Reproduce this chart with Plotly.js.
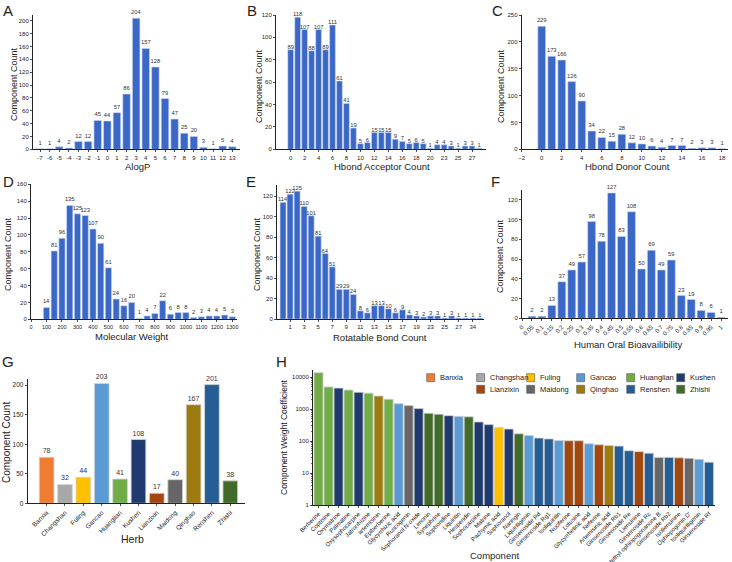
<!DOCTYPE html>
<html>
<head>
<meta charset="utf-8">
<script src="https://cdn.plot.ly/plotly-3.0.1.min.js"></script>
<style>html,body{margin:0;padding:0;background:#fff}#chart{width:732px;height:562px}</style>
</head>
<body>
<div id="chart"></div>
<script>
// ---------- DATA ----------
const alogpX = [-7,-6,-5,-4,-3,-2,-1,0,1,2,3,4,5,6,7,8,9,10,11,12,13];
const alogpCount = [1,1,4,2,12,12,45,44,57,86,204,157,128,79,47,25,20,3,1,5,4];

const accCats = ['0','1','2','3','4','5','6','7','8','9','10','11','12','13','14','15','16','17','18','19','20','22','23','24','25','26','27','29'];
const accCount = [89,118,107,88,107,89,111,61,41,19,5,6,15,15,15,9,7,5,6,5,1,4,4,3,1,3,3,1];
const accTicks = ['0','2','4','6','8','10','12','14','16','18','20','23','25','27'];

const donX = [0,1,2,3,4,5,6,7,8,9,10,11,12,13,14,15,16,17,18];
const donCount = [229,173,166,126,90,34,22,15,28,12,10,6,4,7,7,2,3,3,1];

const mwX = [100,150,200,250,300,350,400,450,500,550,600,650,700,750,800,850,900,950,1000,1050,1100,1150,1200,1250,1300];
const mwCount = [14,81,96,135,125,123,107,90,61,24,16,20,1,4,7,22,6,8,8,2,3,4,4,5,3];

const rotCats = ['0','1','2','3','4','5','6','7','8','9','10','11','12','13','14','15','16','17','18','19','21','23','24','25','26','27','30','34','36'];
const rotCount = [114,122,125,110,101,81,64,51,29,29,24,8,6,13,13,10,6,9,4,3,2,3,3,1,3,1,1,1,1];
const rotTicks = ['1','3','5','7','9','11','13','15','17','19','23','25','27','34'];

const obX = [0.05,0.1,0.15,0.2,0.25,0.3,0.35,0.4,0.45,0.5,0.55,0.6,0.65,0.7,0.75,0.8,0.85,0.9,0.95,1];
const obCount = [2,2,13,37,49,57,98,78,127,83,108,50,69,49,59,23,19,8,6,1];
const obTickVals = [0,0.05,0.1,0.15,0.2,0.25,0.3,0.35,0.4,0.45,0.5,0.55,0.6,0.65,0.7,0.75,0.8,0.85,0.9,0.95,1];
const obTickText = ['0','0.05','0.1','0.15','0.2','0.25','0.3','0.35','0.4','0.45','0.5','0.55','0.6','0.65','0.7','0.75','0.8','0.85','0.9','0.95','1'];

const herbs = ['Banxia','Changshan','Fuling','Gancao','Huanglian','Kushen','Lianzixin','Maidong','Qinghao','Renshen','Zhishi'];
const herbCount = [78,32,44,203,41,108,17,40,167,201,38];

const compNames = ['Berberine','Coptisine','Oxymatrine','Palmatine','Oxysophocarpine','Jatrorrhizine','artemisinin','Epiberberine','Glycyrrhizic acid','Ruscogenin','Sophoranol N-oxide','Limonin','Synephrine','Sophoridine','Liquiritin','Hesperidin','Sophocarpine','Matrine','Pachymic acid','Sophoranol','Naringin','Liquiritigenin','Ginsenoside Rd','Ginsenoside Rg1','Isoliquiritin','Nuciferine','Lotusine','Glycyrrhetinic acid','Neferine','Artemisinic acid','Ginsenoside Rb1','Ginsenoside Re','Liensinine','Ginsenoside Rc','Methyl ophiopogonanone B','Ginsenoside Rb2','Isoliensinine','Ophiopogonin D\'','Isoliquiritigenin','Ginsenoside Rf'];
const compWeight = [14000,5000,4600,4000,3400,3200,2600,2050,1500,1300,1050,750,700,630,600,580,400,330,270,240,170,150,125,118,105,103,103,83,77,73,70,50,47,42,31,31,30,29,27,22];
const compHerb = ['Huanglian','Huanglian','Kushen','Huanglian','Kushen','Huanglian','Qinghao','Huanglian','Gancao','Maidong','Kushen','Zhishi','Zhishi','Kushen','Gancao','Zhishi','Kushen','Kushen','Fuling','Kushen','Zhishi','Gancao','Renshen','Renshen','Gancao','Lianzixin','Lianzixin','Gancao','Lianzixin','Qinghao','Renshen','Renshen','Lianzixin','Renshen','Maidong','Renshen','Lianzixin','Maidong','Gancao','Renshen'];
const hTickVals = [1,10,100,1000,10000];
const hTickText = ['1','10','100','1000','10000'];

// ---------- STYLES ----------
const FONT = 'Arial, "Liberation Sans", sans-serif';
const HIST_BLUE = '#3b67c6';
const herbColors = {Banxia:'#ee7d31',Changshan:'#a8a8a8',Fuling:'#ffc000',Gancao:'#5b9bd5',Huanglian:'#70ad47',Kushen:'#1f3a6e',Lianzixin:'#a2480e',Maidong:'#666666',Qinghao:'#9e7b0e',Renshen:'#255e95',Zhishi:'#426b29'};
const W = 732, H = 562;
const px = x => x / W;
const py = y => 1 - y / H;

function hist(x, y, n, width){
  return {type:'bar', x:x, y:y, xaxis:'x'+(n===1?'':n), yaxis:'y'+(n===1?'':n),
    width:width, marker:{color:HIST_BLUE, line:{color:'#c9d6f2', width:0.6}},
    text:y.map(String), textposition:'outside', textfont:{size:5.8, color:'#333'},
    cliponaxis:false, constraintext:'none', showlegend:false, hoverinfo:'x+y'};
}

const traces = [
  hist(alogpX, alogpCount, 1, 0.78),
  hist(accCats, accCount, 2, 0.82),
  hist(donX, donCount, 3, 0.78),
  hist(mwX, mwCount, 4, 40),
  hist(rotCats, rotCount, 5, 0.85),
  hist(obX, obCount, 6, 0.04),
  {type:'bar', x:herbs, y:herbCount, xaxis:'x7', yaxis:'y7', width:0.8,
   marker:{color:herbs.map(h=>herbColors[h]), line:{color:'#d4d4d4', width:0.8}},
   text:herbCount.map(String), textposition:'outside', textfont:{size:7,color:'#333'},
   cliponaxis:false, constraintext:'none', showlegend:false}
];
herbs.forEach(h => {
  const idx = compHerb.map((v,i)=>v===h?i:-1).filter(i=>i>=0);
  if (!idx.length) return;
  traces.push({type:'bar', name:h, x:idx.map(i=>compNames[i]), y:idx.map(i=>compWeight[i]),
    xaxis:'x8', yaxis:'y8', width:0.9,
    marker:{color:herbColors[h], line:{color:'#cfcfcf', width:0.8}}, showlegend:false});
});

function ax(extra){
  return Object.assign({showline:true, linecolor:'#222', linewidth:1, ticks:'outside', ticklen:2,
    tickwidth:0.8, tickcolor:'#222', showgrid:false, zeroline:false, automargin:false,
    tickfont:{size:6, color:'#222', family:FONT}, fixedrange:true}, extra);
}

const rowA = [py(149.3), py(15)];
const layout = {
  width:W, height:H, margin:{l:0,r:0,t:0,b:0}, paper_bgcolor:'#fff', plot_bgcolor:'rgba(0,0,0,0)',
  font:{family:FONT, color:'#222'}, barmode:'overlay', showlegend:false,
  xaxis: ax({domain:[px(33),px(240)], anchor:'y', range:[-7.73,13.8], tickmode:'array', tickvals:alogpX, ticktext:alogpX.map(String), tickangle:0}),
  yaxis: ax({domain:rowA, anchor:'x', range:[0,209], dtick:20}),
  xaxis2: ax({domain:[px(276),px(486)], anchor:'y2', type:'category', range:[-2.1,28], tickmode:'array', tickvals:accTicks, ticktext:accTicks, tickangle:0}),
  yaxis2: ax({domain:rowA, anchor:'x2', range:[0,120], dtick:20}),
  xaxis3: ax({domain:[px(521.7),px(728)], anchor:'y3', range:[-2,18.6], dtick:2, tick0:0, tickangle:0}),
  yaxis3: ax({domain:rowA, anchor:'x3', range:[0,250], dtick:50}),
  xaxis4: ax({domain:[px(31),px(237)], anchor:'y4', range:[0,1330], dtick:100, tick0:0, tickangle:0, tickfont:{size:5.5,color:'#222',family:FONT}}),
  yaxis4: ax({domain:[py(319.3),py(184.3)], anchor:'x4', range:[0,160], dtick:20}),
  xaxis5: ax({domain:[px(277),px(484)], anchor:'y5', type:'category', range:[-0.86,28.6], tickmode:'array', tickvals:rotTicks, ticktext:rotTicks, tickangle:0}),
  yaxis5: ax({domain:[py(319),py(185)], anchor:'x5', range:[0,131], dtick:20}),
  xaxis6: ax({domain:[px(522),px(728)], anchor:'y6', range:[0,1.035], tickmode:'array', tickvals:obTickVals, ticktext:obTickText, tickangle:-45}),
  yaxis6: ax({domain:[py(318.3),py(190)], anchor:'x6', range:[0,130], dtick:20}),
  xaxis7: ax({domain:[px(27.7),px(245)], anchor:'y7', type:'category', range:[-1.03,10.8], tickangle:-45, tickfont:{size:6.5,color:'#222',family:FONT}}),
  yaxis7: ax({domain:[py(503.3),py(379.3)], anchor:'x7', range:[0,210], dtick:50, tickfont:{size:6.5,color:'#222',family:FONT}}),
  xaxis8: ax({domain:[px(313),px(715)], anchor:'y8', type:'category', categoryorder:'array', categoryarray:compNames, range:[-0.55,39.6], tickangle:-45, tickfont:{size:6,color:'#222',family:FONT}}),
  yaxis8: ax({domain:[py(505),py(370)], anchor:'x8', type:'log', range:[0,4.23], tickmode:'array', tickvals:hTickVals, ticktext:hTickText,
    minor:{ticks:'outside', ticklen:1.5, tickcolor:'#444', dtick:'D1'}}),
  annotations:[], shapes:[]
};

function addText(t, x, y, size, angle, anchor){
  layout.annotations.push({text:t, x:px(x), y:py(y), xref:'paper', yref:'paper', xanchor:anchor||'center', yanchor:'middle',
    showarrow:false, textangle:angle||0, font:{size:size, color:'#222', family:FONT}});
}

// panel letters
[['A',8,10],['B',252,10],['C',497,10],['D',8,181],['E',251,181],['F',495,182],['G',8,361],['H',281,361]].forEach(l=>addText(l[0], l[1], l[2], 15));

// axis titles
addText('AlogP', 137, 166, 9.5);
addText('Hbond Acceptor Count', 382, 166, 9.5);
addText('Hbond Donor Count', 627, 166, 9.5);
addText('Molecular Weight', 132, 336.5, 9.5);
addText('Rotatable Bond Count', 380, 337.5, 9.5);
addText('Human Oral Bioavailibility', 628, 344, 9.5);
addText('Herb', 132, 539, 10.5);
addText('Component', 494, 555, 9.5);
addText('Component Count', 14, 84, 9, -90);
addText('Component Count', 259, 86, 9, -90);
addText('Component Count', 501, 86, 9, -90);
addText('Component Count', 8, 254, 9, -90);
addText('Component Count', 257, 254, 9, -90);
addText('Component Count', 500, 256, 9, -90);
addText('Component Count', 6, 443, 10, -90);
addText('Component Weight Coefficient', 284, 437, 8.5, -90);

// H legend
herbs.forEach((h,i)=>{
  const col = i < 6 ? i : i - 5;
  const row = i < 6 ? 0 : 1;
  const cx = 430.7 + 50 * col, cy = 377.7 + 11.6 * row;
  layout.shapes.push({type:'rect', xref:'paper', yref:'paper', x0:px(cx-4), x1:px(cx+4), y0:py(cy+4), y1:py(cy-4),
    fillcolor:herbColors[h], line:{color:'#555', width:0.6}});
  addText(h, cx+7, cy, 7.5, 0, 'left');
});

Plotly.newPlot('chart', traces, layout, {displayModeBar:false, staticPlot:true});
</script>
</body>
</html>
